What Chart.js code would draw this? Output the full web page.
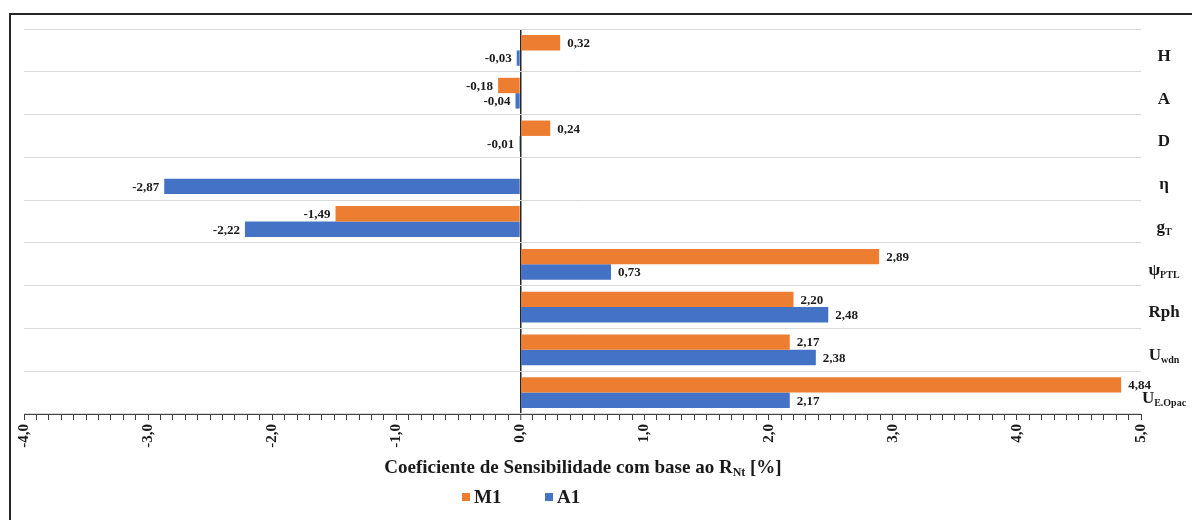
<!DOCTYPE html>
<html>
<head>
<meta charset="utf-8">
<title>Coeficiente de Sensibilidade</title>
<script src="https://cdn.jsdelivr.net/npm/chart.js"></script>
<style>
  body { margin: 0; background: #fff; }
  #wrap { position: relative; width: 1192px; height: 520px; overflow: hidden; }
  #frame { position: absolute; left: 9px; top: 13px; width: 1300px; height: 600px;
           border-left: 2px solid #262626; border-top: 2px solid #262626; }
  canvas { position: absolute; left: 0; top: 0; }
</style>
</head>
<body>
<div id="wrap">
  <div id="frame"></div>
  <canvas id="sensChart" width="1192" height="520"></canvas>
</div>
<script>
// categories, top to bottom: [main text, subscript]
const categories = [['H', ''], ['A', ''], ['D', ''], ['η', ''], ['g', 'T'],
                    ['ψ', 'PTL'], ['Rph', ''], ['U', 'wdn'], ['U', 'E.Opac']];
const seriesNames = ['M1', 'A1'];
const m1Values = [0.32, -0.18, 0.24, null, -1.49, 2.89, 2.20, 2.17, 4.84];
const a1Values = [-0.03, -0.04, -0.01, -2.87, -2.22, 0.73, 2.48, 2.38, 2.17];
const xTickMin = -4;
const xTickMax = 5;

const ORANGE = '#ED7D31';
const BLUE = '#4472C4';
const SERIF = '"Liberation Serif", "Times New Roman", serif';

function fmt(v, d) {
  return v.toFixed(d).replace('.', ',');
}

// bar value labels, drawn at the bar ends
const valueLabels = {
  id: 'valueLabels',
  afterDatasetsDraw(chart) {
    const ctx = chart.ctx;
    ctx.save();
    ctx.font = 'bold 13px ' + SERIF;
    ctx.fillStyle = '#1a1a1a';
    ctx.textBaseline = 'middle';
    chart.data.datasets.forEach((ds, i) => {
      chart.getDatasetMeta(i).data.forEach((bar, j) => {
        const v = ds.data[j];
        if (v === null) return;
        if (v >= 0) {
          ctx.textAlign = 'left';
          ctx.fillText(fmt(v, 2), bar.x + 7, bar.y + 1);
        } else {
          ctx.textAlign = 'right';
          ctx.fillText(fmt(v, 2), bar.x - 5, bar.y + 1);
        }
      });
    });
    ctx.restore();
  }
};

// category labels with subscripts, axis title and legend
const decorations = {
  id: 'decorations',
  afterDraw(chart) {
    const ctx = chart.ctx;
    const y = chart.scales.y;
    const area = chart.chartArea;
    ctx.save();
    ctx.fillStyle = '#1a1a1a';
    ctx.textBaseline = 'middle';
    ctx.textAlign = 'left';
    categories.forEach((c, i) => {
      const py = y.getPixelForTick(i) + 6;
      ctx.font = 'bold 17px ' + SERIF;
      const w1 = ctx.measureText(c[0]).width;
      ctx.font = 'bold 10px ' + SERIF;
      const w2 = c[1] ? ctx.measureText(c[1]).width : 0;
      const x0 = area.right + 23 - (w1 + w2) / 2;
      ctx.font = 'bold 17px ' + SERIF;
      ctx.fillText(c[0], x0, py);
      if (c[1]) {
        ctx.font = 'bold 10px ' + SERIF;
        ctx.fillText(c[1], x0 + w1, py + 5);
      }
    });

    // x axis title
    const t1 = 'Coeficiente de Sensibilidade com base ao R';
    const t2 = 'Nt';
    const t3 = ' [%]';
    ctx.font = 'bold 19px ' + SERIF;
    const a = ctx.measureText(t1).width;
    const c3 = ctx.measureText(t3).width;
    ctx.font = 'bold 12px ' + SERIF;
    const b = ctx.measureText(t2).width;
    let tx = 583 - (a + b + c3) / 2;
    const ty = 468;
    ctx.font = 'bold 19px ' + SERIF;
    ctx.fillText(t1, tx, ty);
    ctx.font = 'bold 12px ' + SERIF;
    ctx.fillText(t2, tx + a, ty + 5);
    ctx.font = 'bold 19px ' + SERIF;
    ctx.fillText(t3, tx + a + b, ty);

    // legend
    const items = [[seriesNames[0], ORANGE, 462], [seriesNames[1], BLUE, 545]];
    items.forEach(it => {
      ctx.fillStyle = it[1];
      ctx.fillRect(it[2], 493, 8, 8);
      ctx.fillStyle = '#1a1a1a';
      ctx.font = 'bold 19px ' + SERIF;
      ctx.fillText(it[0], it[2] + 12, 498);
    });
    ctx.restore();
  }
};

new Chart(document.getElementById('sensChart'), {
  type: 'bar',
  data: {
    labels: categories.map(c => c[0] + c[1]),
    datasets: [
      { label: seriesNames[0], data: m1Values, backgroundColor: ORANGE },
      { label: seriesNames[1], data: a1Values, backgroundColor: BLUE }
    ]
  },
  options: {
    indexAxis: 'y',
    responsive: false,
    animation: false,
    layout: { padding: { left: 24, top: 29, right: 51, bottom: 0 } },
    datasets: { bar: { categoryPercentage: 0.72, barPercentage: 1 } },
    scales: {
      x: {
        min: xTickMin,
        max: xTickMax,
        afterFit(scale) { scale.height = 106; },
        border: { display: true, color: '#404040', width: 1 },
        grid: {
          drawOnChartArea: true,
          color: c => (c.tick && Math.abs(c.tick.value) < 1e-9) ? '#262626' : 'rgba(0,0,0,0)',
          lineWidth: c => (c.tick && Math.abs(c.tick.value) < 1e-9) ? 1.5 : 1,
          tickColor: '#404040',
          tickWidth: 1,
          tickLength: 6
        },
        ticks: {
          stepSize: 0.1,
          autoSkip: false,
          maxRotation: 90,
          minRotation: 90,
          padding: 4,
          color: '#1a1a1a',
          font: { family: SERIF, size: 15, weight: 'bold' },
          callback(v) {
            const r = Math.round(v * 10) / 10;
            return Number.isInteger(r) ? fmt(r, 1) : '';
          }
        }
      },
      y: {
        position: 'right',
        afterFit(scale) { scale.width = 0; },
        border: { display: false },
        grid: { color: '#d9d9d9', lineWidth: 1, drawTicks: false },
        ticks: { display: false }
      }
    },
    plugins: {
      legend: { display: false },
      tooltip: { enabled: false }
    }
  },
  plugins: [valueLabels, decorations]
});
</script>
</body>
</html>
